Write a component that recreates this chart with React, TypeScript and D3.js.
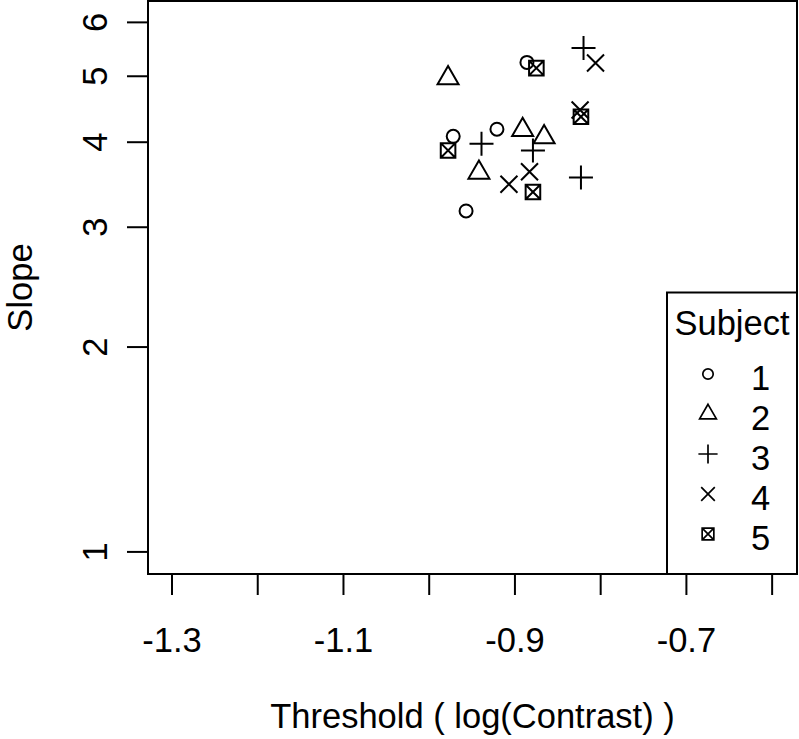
import React from "react";
import * as d3 from "d3";

// values
const subjects = ["1", "2", "3", "4", "5"];
const threshold1 = [-0.972, -0.921, -0.957, -0.886];
const slope1 = [4.08, 4.18, 3.17, 5.24];
const threshold2 = [-0.978, -0.942, -0.891, -0.866];
const slope2 = [4.97, 3.61, 4.17, 4.07];
const threshold3 = [-0.939, -0.879, -0.82, -0.823];
const slope3 = [3.98, 3.89, 5.5, 3.55];
const threshold4 = [-0.907, -0.883, -0.806, -0.824];
const slope4 = [3.47, 3.62, 5.23, 4.46];
const threshold5 = [-0.978, -0.879, -0.875, -0.823];
const slope5 = [3.89, 3.38, 5.14, 4.36];

const xTicks = [-1.3, -1.2, -1.1, -1.0, -0.9, -0.8, -0.7, -0.6];
const xTickLabels = ["-1.3", "", "-1.1", "", "-0.9", "", "-0.7", ""];
const yTicks = [1, 2, 3, 4, 5, 6];

const W = 799;
const H = 739;
const FONT = "'Liberation Sans', Arial, sans-serif";

const Symbol = ({ kind, cx, cy, k, sw }) => {
  // kind: 0 circle, 1 triangle, 2 plus, 3 cross, 4 boxed cross
  const common = { fill: "none", stroke: "#000", strokeWidth: sw };
  if (kind === 0) return <circle cx={cx} cy={cy} r={6.5 * k} {...common} />;
  if (kind === 1) {
    const hw = 10.5 * k, up = 12.1 * k, dn = 6.1 * k;
    return <polygon points={`${cx},${cy - up} ${cx + hw},${cy + dn} ${cx - hw},${cy + dn}`} {...common} />;
  }
  if (kind === 2) {
    const a = 12 * k;
    return <path d={`M${cx - a},${cy}H${cx + a}M${cx},${cy - a}V${cy + a}`} {...common} />;
  }
  if (kind === 3) {
    const a = 8.5 * k;
    return <path d={`M${cx - a},${cy - a}L${cx + a},${cy + a}M${cx - a},${cy + a}L${cx + a},${cy - a}`} {...common} />;
  }
  const a = 7.3 * k;
  return (
    <path
      d={`M${cx - a},${cy - a}H${cx + a}V${cy + a}H${cx - a}Z M${cx - a},${cy - a}L${cx + a},${cy + a}M${cx - a},${cy + a}L${cx + a},${cy - a}`}
      {...common}
    />
  );
};

export default function App() {
  const left = 148, right = 797, top = 1, bottom = 574;

  const x = d3.scaleLinear().domain([-1.328, -0.571]).range([left, right]);
  const y = d3.scaleLog().domain([0.928, 6.45]).range([bottom, top]);

  const series = [
    [threshold1, slope1],
    [threshold2, slope2],
    [threshold3, slope3],
    [threshold4, slope4],
    [threshold5, slope5],
  ];

  const legLeft = 667, legTop = 292.5;

  return (
    <svg
      width={W}
      height={H}
      style={{ position: "absolute", left: 0, top: 0, display: "block", background: "#fff" }}
      fontFamily={FONT}
      fontSize={34.5}
    >
      <rect x={0} y={0} width={W} height={H} fill="#fff" />

      {/* plot frame */}
      <rect x={left} y={top} width={right - left} height={bottom - top} fill="none" stroke="#000" strokeWidth={2} />

      {/* x axis: ticks only */}
      {xTicks.map((t, i) => (
        <g key={"xt" + i}>
          <line x1={x(t)} x2={x(t)} y1={bottom} y2={595} stroke="#000" strokeWidth={2} />
          {xTickLabels[i] && (
            <text x={x(t)} y={652} textAnchor="middle">{xTickLabels[i]}</text>
          )}
        </g>
      ))}

      {/* y axis */}
      {yTicks.map((t) => (
        <g key={"yt" + t}>
          <line x1={127} x2={left} y1={y(t)} y2={y(t)} stroke="#000" strokeWidth={2} />
          <text transform={`translate(107,${y(t)}) rotate(-90)`} textAnchor="middle">{t}</text>
        </g>
      ))}

      <text x={(left + right) / 2} y={728} textAnchor="middle">Threshold ( log(Contrast) )</text>
      <text transform={`translate(32,${(top + bottom) / 2}) rotate(-90)`} textAnchor="middle">Slope</text>

      {/* points */}
      {series.map(([xs, ys], s) =>
        xs.map((v, i) => (
          <Symbol key={`p${s}-${i}`} kind={s} cx={x(v)} cy={y(ys[i])} k={1} sw={2} />
        ))
      )}

      {/* legend */}
      <rect x={legLeft} y={legTop} width={right - legLeft} height={bottom - legTop} fill="#fff" stroke="#000" strokeWidth={2} />
      <text x={732} y={335} textAnchor="middle">Subject</text>
      {subjects.map((s, i) => {
        const base = 390 + i * 40;
        return (
          <g key={"lg" + s}>
            <Symbol kind={i} cx={708} cy={base - 16} k={0.8} sw={1.7} />
            <text x={751} y={base}>{s}</text>
          </g>
        );
      })}
    </svg>
  );
}
